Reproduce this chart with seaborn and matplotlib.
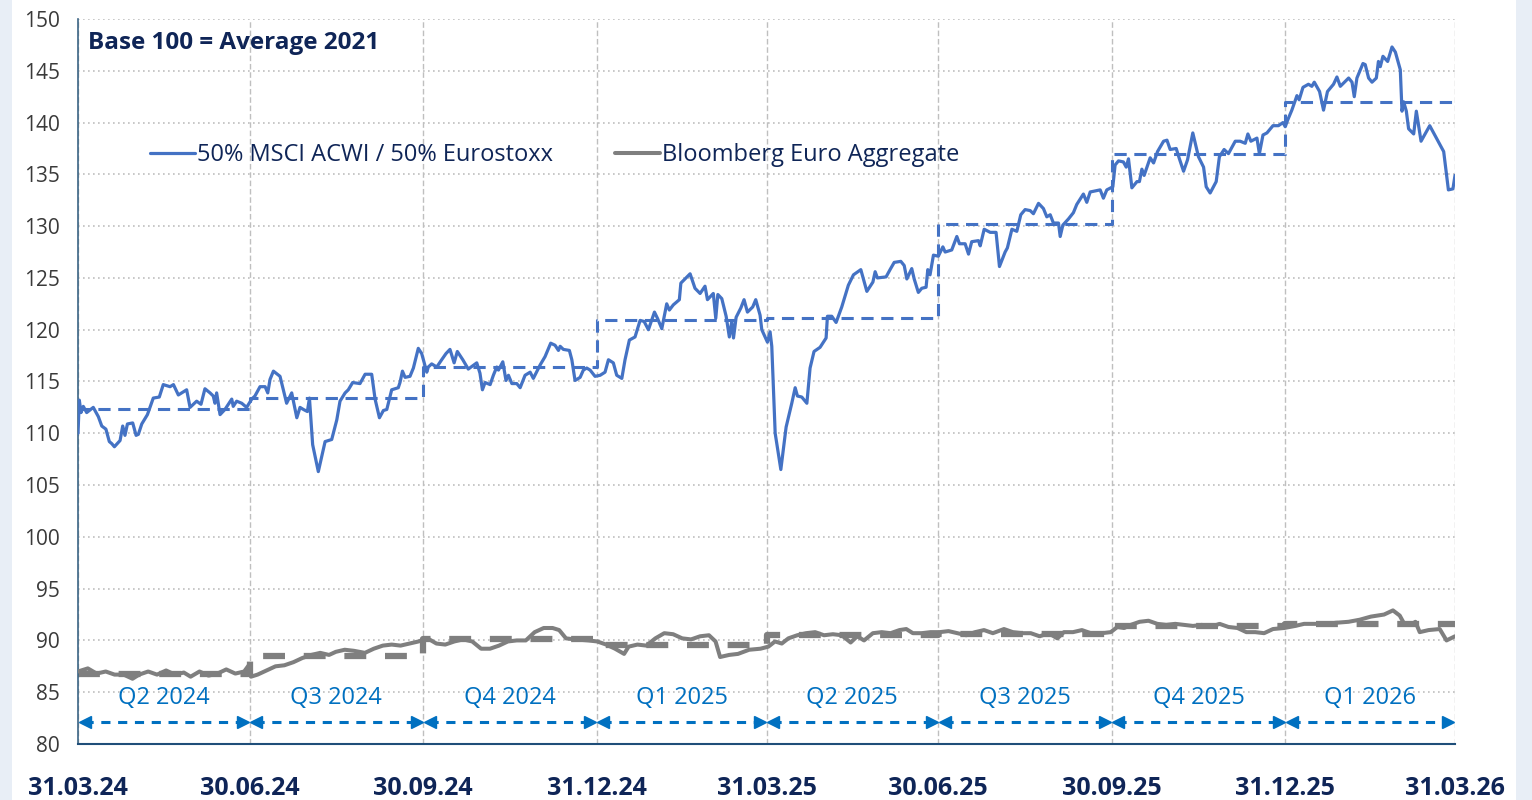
import pandas as pd
import matplotlib
matplotlib.use("Agg")
import matplotlib.pyplot as plt
from matplotlib.patches import Rectangle
import seaborn as sns

# ---- data (days since 31.03.24, index level, base 100 = avg 2021) ----
start = pd.Timestamp("2024-03-31")

msci_day = [0.0, 0.7, 1.6, 2.8, 4.6, 8.1, 10.8, 12.6, 14.8, 16.6, 17.9, 19.3, 22.3, 23.7, 24.9, 26.2, 29.0, 30.8, 32.0,
            33.8, 36.8, 39.9, 43.1, 45.2, 48.8, 50.6, 53.2, 57.6, 59.4, 62.9, 65.2, 67.3, 70.0, 71.7, 72.6, 73.5, 75.3,
            77.9, 79.7, 81.5, 82.3, 84.1, 86.8, 89.4, 92.1, 93.8, 96.5, 99.2, 100.6, 101.8, 103.6, 107.1, 110.6, 113.3,
            116.0, 117.7, 119.5, 121.6, 122.7, 124.4, 127.4, 131.0, 134.5, 137.2, 138.9, 141.6, 143.3, 145.6, 149.5,
            152.2, 155.7, 157.5, 159.8, 161.9, 163.7, 166.3, 169.8, 170.7, 172.0, 173.4, 176.0, 177.8, 180.4, 182.2,
            184.9, 185.7, 187.5, 190.2, 192.8, 195.1, 197.2, 199.4, 201.1, 204.0, 206.9, 211.4, 213.1, 214.4, 215.8,
            218.5, 220.2, 222.0, 222.9, 225.2, 226.9, 228.2, 230.0, 232.6, 234.4, 237.0, 239.7, 241.4, 245.0, 247.6,
            250.6, 252.9, 254.7, 255.6, 257.3, 260.5, 261.8, 263.5, 266.2, 267.9, 269.7, 271.5, 274.1, 276.8, 279.4,
            281.2, 283.8, 285.6, 288.3, 290.0, 292.3, 295.3, 298.0, 300.1, 302.4, 305.6, 307.2, 309.5, 312.1, 313.5,
            315.6, 318.8, 319.6, 324.5, 327.1, 329.8, 332.4, 333.7, 336.8, 338.1, 339.2, 341.3, 343.6, 345.3, 346.6,
            347.5, 348.9, 351.4, 353.1, 354.9, 357.7, 359.3, 361.6, 362.5, 365.5, 366.9, 367.8, 369.6, 372.6, 375.4,
            378.4, 380.2, 381.4, 383.7, 386.4, 388.1, 390.2, 393.4, 396.6, 397.3, 399.6, 401.9, 404.9, 408.4, 411.1,
            415.0, 418.2, 421.4, 422.6, 423.8, 428.4, 430.5, 432.7, 436.2, 438.0, 439.4, 442.0, 443.3, 445.5, 447.3,
            449.6, 450.5, 451.7, 453.5, 456.1, 458.5, 459.7, 463.2, 465.9, 467.3, 470.3, 472.1, 473.8, 477.4, 478.3,
            480.4, 483.6, 486.7, 488.5, 491.5, 492.7, 495.1, 497.7, 499.8, 502.1, 504.8, 506.5, 509.2, 511.8, 513.6,
            515.4, 517.1, 519.8, 520.7, 522.1, 525.1, 527.7, 529.5, 533.0, 534.8, 536.6, 541.9, 543.6, 545.4, 548.6,
            549.8, 551.6, 554.2, 555.7, 556.9, 558.7, 561.4, 562.7, 564.0, 565.2, 568.4, 570.2, 572.3, 575.5, 577.3,
            579.0, 582.2, 583.9, 586.1, 588.2, 591.0, 594.0, 596.7, 598.1, 600.2, 603.4, 605.1, 607.6, 609.9, 613.5,
            616.1, 618.8, 620.2, 621.8, 625.0, 626.3, 628.2, 630.3, 633.5, 636.4, 638.8, 640.0, 641.2, 643.5, 646.2,
            647.4, 649.4, 652.3, 654.1, 655.4, 658.2, 660.3, 662.4, 665.6, 667.4, 669.2, 673.6, 675.4, 676.6, 678.0,
            681.2, 682.4, 684.2, 686.0, 688.3, 689.4, 690.4, 691.8, 694.3, 696.6, 698.4, 701.0, 701.9, 702.8, 704.2,
            705.4, 708.1, 709.5, 712.0, 716.6, 724.0, 726.5, 728.9, 730.0]
msci_val = [110.0, 113.2, 112.0, 112.6, 112.0, 112.5, 111.6, 110.7, 110.4, 109.2, 109.0, 108.7, 109.3, 110.7, 109.8,
            110.9, 111.0, 109.8, 109.9, 110.9, 111.8, 113.4, 113.5, 114.7, 114.5, 114.7, 113.7, 114.2, 112.5, 113.1,
            112.8, 114.3, 113.9, 113.6, 112.9, 113.9, 111.8, 112.3, 112.8, 113.3, 112.6, 113.1, 112.9, 112.5, 113.3,
            113.6, 114.5, 114.5, 113.9, 115.2, 116.0, 115.5, 112.9, 113.9, 111.5, 112.5, 112.3, 112.1, 113.4, 108.9,
            106.3, 109.2, 109.4, 111.3, 113.1, 113.9, 114.2, 114.9, 114.8, 115.7, 115.7, 113.3, 111.5, 112.2, 112.3,
            114.2, 114.4, 114.9, 116.0, 115.4, 115.5, 116.3, 118.2, 117.7, 115.9, 116.4, 116.7, 116.4, 117.1, 117.7,
            118.1, 116.8, 117.9, 117.1, 116.2, 116.8, 115.8, 114.2, 114.9, 114.7, 115.6, 116.4, 116.1, 116.9, 115.1,
            115.6, 114.8, 114.8, 114.4, 115.6, 115.9, 115.3, 116.6, 117.4, 118.7, 118.5, 118.0, 118.4, 118.1, 118.0,
            117.1, 115.1, 115.4, 116.1, 116.3, 116.1, 115.5, 115.6, 115.9, 117.1, 116.8, 115.6, 115.3, 117.1, 119.0,
            119.3, 120.9, 120.8, 120.0, 121.7, 121.1, 120.1, 122.5, 121.9, 122.4, 122.9, 124.5, 125.4, 124.0, 123.5,
            124.2, 122.9, 123.5, 121.1, 123.4, 123.0, 121.3, 119.3, 120.8, 119.2, 121.2, 122.1, 122.9, 121.7, 122.2,
            122.9, 121.4, 120.0, 118.8, 119.8, 118.4, 110.0, 106.5, 110.6, 112.9, 114.4, 113.6, 113.5, 112.9, 116.3,
            117.9, 118.3, 119.2, 121.3, 121.3, 120.7, 122.2, 124.3, 125.3, 125.8, 123.7, 124.6, 125.6, 125.0, 125.1,
            125.8, 126.5, 126.6, 126.2, 124.9, 125.9, 124.9, 123.6, 124.0, 124.1, 125.8, 125.3, 127.2, 127.1, 128.0,
            127.5, 127.7, 129.0, 128.3, 128.3, 127.3, 128.5, 128.6, 128.1, 129.7, 129.4, 129.4, 126.1, 127.5, 127.9,
            129.7, 129.5, 131.1, 131.6, 131.5, 131.2, 132.2, 131.7, 130.9, 131.1, 130.3, 130.3, 129.0, 130.1, 130.7,
            131.3, 132.1, 133.1, 132.3, 133.3, 133.5, 132.7, 133.5, 133.8, 135.9, 136.3, 136.2, 135.7, 136.5, 133.7,
            134.3, 134.3, 135.5, 134.9, 136.6, 136.1, 137.2, 138.2, 138.3, 137.4, 137.5, 136.5, 135.3, 136.4, 139.0,
            136.7, 135.7, 133.8, 133.2, 134.3, 136.7, 137.4, 137.0, 138.2, 138.2, 138.0, 138.9, 138.2, 138.5, 137.0,
            138.8, 139.0, 139.7, 139.7, 140.0, 139.6, 140.2, 141.2, 142.6, 142.2, 143.4, 143.7, 143.5, 143.9, 143.0,
            141.2, 143.0, 143.7, 144.4, 143.5, 144.3, 143.9, 142.5, 144.3, 145.7, 145.6, 144.3, 143.9, 144.3, 145.9,
            145.4, 146.4, 145.9, 147.3, 146.8, 145.1, 141.1, 142.0, 141.1, 139.4, 138.9, 141.1, 138.2, 139.7, 137.2,
            133.5, 133.6, 134.9]

bbg_day = [0.0, 5.2, 9.9, 14.7, 19.4, 24.2, 28.9, 32.4, 37.2, 41.9, 46.7, 51.4, 56.1, 59.7, 64.4, 69.2, 73.9, 78.6,
           83.4, 88.1, 90.5, 91.7, 95.2, 100.0, 104.7, 109.4, 114.2, 118.9, 123.7, 128.4, 133.1, 136.7, 141.4, 146.2,
           152.1, 156.8, 161.6, 166.3, 171.0, 175.8, 180.5, 185.3, 190.0, 194.7, 199.5, 204.2, 209.0, 213.7, 218.4,
           223.2, 227.9, 232.6, 237.4, 242.1, 246.9, 251.6, 255.1, 258.7, 263.4, 270.5, 275.3, 280.0, 284.7, 289.5,
           291.9, 296.6, 301.3, 306.1, 310.8, 315.5, 320.3, 325.0, 329.8, 334.5, 338.0, 340.4, 345.2, 349.9, 355.8,
           361.8, 366.0, 369.5, 373.1, 376.6, 381.3, 386.0, 390.8, 395.5, 400.2, 404.9, 409.6, 413.1, 416.7, 421.4,
           426.1, 430.8, 435.5, 439.1, 442.6, 447.3, 452.0, 456.8, 461.5, 466.2, 470.9, 475.6, 480.3, 485.0, 490.9,
           495.6, 500.4, 505.1, 509.8, 514.5, 519.2, 522.7, 527.5, 532.2, 536.9, 542.8, 547.5, 551.0, 554.6, 558.1,
           562.8, 567.5, 572.2, 576.9, 581.7, 586.4, 591.1, 595.8, 600.5, 605.2, 609.9, 614.7, 619.4, 624.1, 628.8,
           633.5, 639.4, 645.3, 650.0, 657.1, 661.8, 666.5, 673.6, 679.5, 685.4, 692.4, 697.1, 700.7, 703.1, 706.6,
           709.0, 711.3, 716.0, 721.9, 725.5, 730.0]
bbg_val = [87.0, 87.3, 86.8, 87.0, 86.7, 86.7, 86.3, 86.7, 87.0, 86.7, 87.1, 86.7, 86.9, 86.5, 87.0, 86.6, 86.8, 87.2,
           86.8, 87.0, 87.6, 86.5, 86.7, 87.1, 87.5, 87.6, 87.9, 88.3, 88.6, 88.8, 88.6, 88.9, 89.1, 89.0, 88.8, 89.2,
           89.5, 89.6, 89.5, 89.7, 89.9, 90.2, 89.7, 89.6, 89.9, 90.1, 89.9, 89.2, 89.2, 89.5, 89.9, 90.0, 90.0, 90.8,
           91.2, 91.2, 91.0, 90.2, 90.1, 90.0, 89.9, 89.6, 89.2, 88.7, 89.4, 89.6, 89.5, 90.2, 90.7, 90.6, 90.2, 90.1,
           90.4, 90.5, 89.9, 88.4, 88.6, 88.7, 89.1, 89.2, 89.4, 89.9, 89.7, 90.2, 90.5, 90.7, 90.8, 90.5, 90.6, 90.5,
           89.8, 90.4, 90.0, 90.7, 90.8, 90.7, 91.0, 91.1, 90.7, 90.7, 90.8, 90.8, 90.9, 90.7, 90.5, 90.8, 91.0, 90.7,
           91.1, 90.8, 90.7, 90.7, 90.4, 90.7, 90.2, 90.8, 90.8, 91.0, 90.7, 90.7, 90.8, 91.3, 91.2, 91.5, 91.8, 91.9,
           91.6, 91.5, 91.6, 91.5, 91.4, 91.5, 91.3, 91.6, 91.3, 91.2, 90.8, 90.8, 90.7, 91.1, 91.2, 91.4, 91.6, 91.6,
           91.5, 91.7, 91.8, 92.0, 92.3, 92.5, 92.9, 92.4, 91.6, 91.5, 91.8, 90.8, 91.0, 91.1, 90.0, 90.4]

quarter_ends = ["2024-03-31", "2024-06-30", "2024-09-30", "2024-12-31", "2025-03-31",
                "2025-06-30", "2025-09-30", "2025-12-31", "2026-03-31"]
quarter_names = ["Q2 2024", "Q3 2024", "Q4 2024", "Q1 2025", "Q2 2025", "Q3 2025", "Q4 2025", "Q1 2026"]
msci_qavg = [112.3, 113.4, 116.4, 120.9, 121.1, 130.2, 137.0, 142.0]
bbg_qavg = [86.8, 88.5, 90.1, 89.6, 90.5, 90.6, 91.4, 91.6]
tick_labels = ["31.03.24", "30.06.24", "30.09.24", "31.12.24", "31.03.25",
               "30.06.25", "30.09.25", "31.12.25", "31.03.26"]

BLUE = "#4472C4"
GREY = "#7F7F7F"
NAVY = "#0F2557"
QBLUE = "#0070C0"

sns.set_theme(style="white")
plt.rcParams["font.family"] = ["Open Sans", "DejaVu Sans"]

msci = pd.DataFrame({"date": start + pd.to_timedelta(msci_day, unit="D"), "value": msci_val})
bbg = pd.DataFrame({"date": start + pd.to_timedelta(bbg_day, unit="D"), "value": bbg_val})
qdates = pd.to_datetime(quarter_ends)
msci_steps = pd.DataFrame({"date": qdates, "value": msci_qavg + [msci_qavg[-1]]})
bbg_steps = pd.DataFrame({"date": qdates, "value": bbg_qavg + [bbg_qavg[-1]]})

fig = plt.figure(figsize=(15.32, 8.0), dpi=100)
fig.patch.set_facecolor("#E8EEF6")
fig.add_artist(Rectangle((12 / 1532, 0), (1516 - 12) / 1532, 1, transform=fig.transFigure,
                         facecolor="white", edgecolor="none", zorder=0))
ax = fig.add_axes([78 / 1532, 1 - 744 / 800, (1455 - 78) / 1532, (744 - 19) / 800])
ax.set_facecolor("white")

# quarterly averages (step lines)
sns.lineplot(data=bbg_steps, x="date", y="value", ax=ax, color=GREY, lw=4.5,
             drawstyle="steps-post", zorder=2)
ax.lines[-1].set_linestyle((0, (3.5, 3)))
sns.lineplot(data=msci_steps, x="date", y="value", ax=ax, color=BLUE, lw=2.2,
             drawstyle="steps-post", zorder=3)
ax.lines[-1].set_linestyle((0, (4, 2.5)))

# daily series
sns.lineplot(data=bbg, x="date", y="value", ax=ax, color=GREY, lw=2.9, zorder=4,
             label="Bloomberg Euro Aggregate")
sns.lineplot(data=msci, x="date", y="value", ax=ax, color=BLUE, lw=2.3, zorder=5,
             label="50% MSCI ACWI / 50% Eurostoxx")

ax.set_xlim(qdates[0], qdates[-1])
ax.set_ylim(80, 150)
ax.set_yticks(range(80, 151, 5))
ax.set_xticks(qdates)
ax.set_xticklabels(tick_labels)
ax.set_xlabel("")
ax.set_ylabel("")

ax.grid(axis="y", color="#BFBFBF", linestyle=(0, (1, 2)), lw=1.2)
ax.grid(axis="x", color="#BFBFBF", linestyle=(0, (4, 2)), lw=1.0)
ax.set_axisbelow(True)

for s in ["top", "right"]:
    ax.spines[s].set_visible(False)
ax.spines["left"].set_color("#3C6585")
ax.spines["bottom"].set_color("#1F4E79")
ax.spines["left"].set_linewidth(1.2)
ax.spines["bottom"].set_linewidth(1.5)
ax.tick_params(axis="y", length=7, width=1.2, color="#3C6585", labelsize=15, labelcolor="#3A3A3A", pad=6)
ax.tick_params(axis="x", length=0, labelsize=18, labelcolor=NAVY, pad=23)
for lab in ax.get_xticklabels():
    lab.set_fontweight("bold")

# quarter labels and arrows
for i, name in enumerate(quarter_names):
    s, e = qdates[i], qdates[i + 1]
    mid = s + (e - s) / 2
    ax.text(mid, 84.4, name, ha="center", va="center", fontsize=17, color=QBLUE, zorder=6)
    ax.plot([s + pd.Timedelta(days=3), e - pd.Timedelta(days=3)], [82.1, 82.1], color=QBLUE, lw=2.2,
            linestyle=(0, (3, 2.5)), zorder=6)
    ax.plot([s + pd.Timedelta(days=3.5)], [82.1], marker="<", ms=9, color=QBLUE, mec=QBLUE, zorder=6)
    ax.plot([e - pd.Timedelta(days=3.5)], [82.1], marker=">", ms=9, color=QBLUE, mec=QBLUE, zorder=6)

ax.text(0.007, 0.967, "Base 100 = Average 2021", transform=ax.transAxes, ha="left", va="center",
        fontsize=17.5, fontweight="bold", color=NAVY)

handles, labels = ax.get_legend_handles_labels()
order = [labels.index("50% MSCI ACWI / 50% Eurostoxx"), labels.index("Bloomberg Euro Aggregate")]
leg = ax.legend([handles[i] for i in order], [labels[i] for i in order], ncol=2, frameon=False,
                loc="center left", bbox_to_anchor=(0.037, 0.812), fontsize=17,
                handlelength=1.9, handletextpad=0.1, columnspacing=2.6)
for t in leg.get_texts():
    t.set_color(NAVY)

fig.savefig("out.png", dpi=100, facecolor=fig.get_facecolor())
